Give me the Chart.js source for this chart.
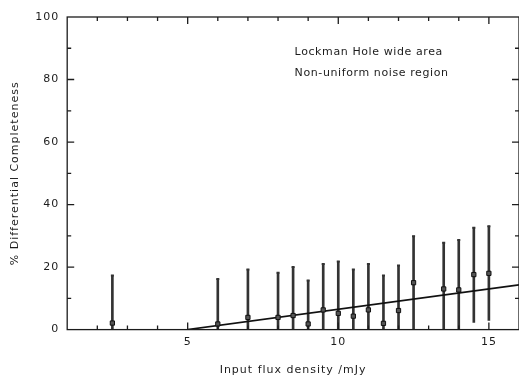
<!DOCTYPE html>
<html>
<head>
<meta charset="utf-8">
<script src="https://cdn.jsdelivr.net/npm/chart.js@4"></script>
<style>
  html, body { margin: 0; padding: 0; background: #fff; overflow: hidden; }
  /* a few px wider than the window: the plot frame runs off the right edge in the original */
  #wrap { width: 525px; height: 377px; }
  canvas { display: block; }
</style>
</head>
<body>
<div id="wrap"><canvas id="completenessChart"></canvas></div>
<script>
// values
const fluxDensity = [2.5, 6, 7, 8, 8.5, 9, 9.5, 10, 10.5, 11, 11.5, 12, 12.5, 13.5, 14, 14.5, 15];
const completeness = [2.1, 1.8, 3.9, 3.9, 4.5, 1.8, 6.3, 5.2, 4.3, 6.3, 2.0, 6.1, 15.0, 13.0, 12.7, 17.6, 18.0];
const errLow = [0, 0, 0, 0, 0, 0, 0, 0, 0, 0, 0, 0, 0, 0, 0, 2.3, 2.9];
const errHigh = [17.3, 16.2, 19.2, 18.2, 20.0, 15.7, 21.0, 21.8, 19.2, 21.0, 17.3, 20.5, 29.9, 27.8, 28.7, 32.6, 33.1];
const modelX = [5, 16];
const modelY = [0, 14.3];
const xTickLabels = [5, 10, 15];
const yTickLabels = [0, 20, 40, 60, 80, 100];
const notes = ['Lockman Hole wide area', 'Non-uniform noise region'];

const ink = '#1c1c1c';
const font = { family: 'DejaVu Sans', size: 11 };

// the original uses a wide-spaced plotter font
const spacing = {
    id: 'spacing',
    beforeLayout(chart) { chart.ctx.letterSpacing = '1px'; },
    beforeDraw(chart) { chart.ctx.letterSpacing = '1px'; }
};

// inward ticks on all four sides + the labels inside the frame
const frameTicks = {
    id: 'frameTicks',
    afterDraw(chart) {
        const c = chart.ctx;
        const a = chart.chartArea;
        const xs = chart.scales.x, ys = chart.scales.y;
        c.save();
        c.strokeStyle = ink;
        c.lineWidth = 1.3;
        c.strokeRect(a.left, a.top, a.right - a.left, a.bottom - a.top);
        c.beginPath();
        for (let v = 2; v <= 15; v++) {
            const px = xs.getPixelForValue(v);
            const len = v % 5 === 0 ? 7 : 4;
            c.moveTo(px, a.bottom); c.lineTo(px, a.bottom - len);
            c.moveTo(px, a.top); c.lineTo(px, a.top + len);
        }
        for (let v = 10; v < 100; v += 10) {
            const py = ys.getPixelForValue(v);
            const len = v % 20 === 0 ? 7 : 4;
            c.moveTo(a.left, py); c.lineTo(a.left + len, py);
            c.moveTo(a.right, py); c.lineTo(a.right - len, py);
        }
        c.stroke();

        c.fillStyle = ink;
        c.font = '11px "DejaVu Sans"';
        c.letterSpacing = '0.6px';
        c.textBaseline = 'middle';
        c.fillText(notes[0], xs.getPixelForValue(8.55), ys.getPixelForValue(88.8));
        c.fillText(notes[1], xs.getPixelForValue(8.55), ys.getPixelForValue(82.1));
        c.restore();
    }
};

const ctx = document.getElementById('completenessChart').getContext('2d');
new Chart(ctx, {
    data: {
        datasets: [
            {
                type: 'bar',
                data: fluxDensity.map((x, i) => ({ x: x, y: [errLow[i], errHigh[i]] })),
                backgroundColor: '#333',
                barThickness: 2,
                grouped: false,
                order: 4
            },
            {
                type: 'scatter',
                data: fluxDensity.map((x, i) => ({ x: x, y: errHigh[i] })),
                pointStyle: 'line',
                radius: 1.5,
                borderColor: '#333',
                borderWidth: 2,
                order: 3
            },
            {
                type: 'line',
                data: modelX.map((x, i) => ({ x: x, y: modelY[i] })),
                borderColor: '#111',
                borderWidth: 1.6,
                pointRadius: 0,
                order: 2
            },
            {
                type: 'scatter',
                data: fluxDensity.map((x, i) => ({ x: x, y: completeness[i] })),
                pointStyle: 'rect',
                radius: 3,
                backgroundColor: '#555',
                borderColor: '#111',
                borderWidth: 1,
                order: 1
            }
        ]
    },
    options: {
        responsive: true,
        maintainAspectRatio: false,
        animation: false,
        layout: { padding: { left: 2, top: 17, right: 0, bottom: 0 } },
        plugins: { legend: { display: false }, tooltip: { enabled: false } },
        scales: {
            x: {
                type: 'linear',
                min: 1,
                max: 16,
                offset: false,
                grid: { display: false, drawTicks: false, offset: false },
                border: { display: false },
                afterBuildTicks: axis => { axis.ticks = xTickLabels.map(v => ({ value: v })); },
                afterFit: axis => { axis.paddingLeft = 0; axis.paddingRight = 0; },
                ticks: { color: ink, font: font, padding: 6, maxRotation: 0 },
                title: {
                    display: true,
                    text: 'Input flux density /mJy',
                    color: ink,
                    font: font,
                    padding: { top: 9, bottom: 0 }
                }
            },
            y: {
                type: 'linear',
                min: 0,
                max: 100,
                grid: { display: false, drawTicks: false },
                border: { display: false },
                afterBuildTicks: axis => { axis.ticks = yTickLabels.map(v => ({ value: v })); },
                ticks: { color: ink, font: font, padding: 8 },
                title: {
                    display: true,
                    text: '% Differential Completeness',
                    color: ink,
                    font: font,
                    padding: { top: 7, bottom: 5 }
                }
            }
        }
    },
    plugins: [spacing, frameTicks]
});
</script>
</body>
</html>
